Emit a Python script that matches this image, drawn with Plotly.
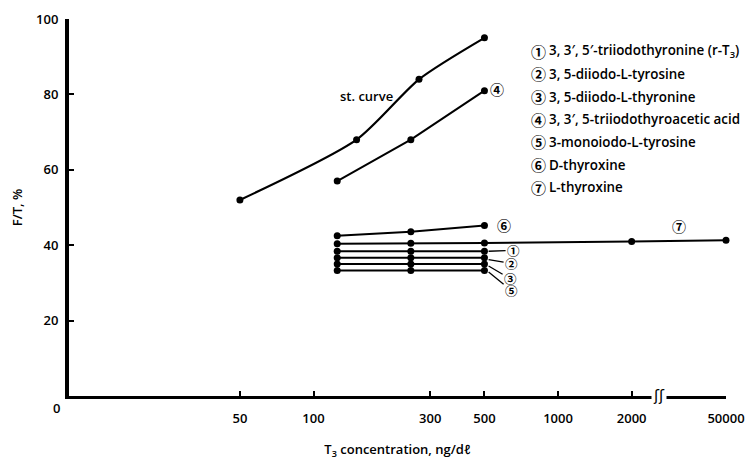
import math
import plotly.graph_objects as go

# ---------------- data ----------------
st_conc = [50, 150, 270, 500]
st_ft = [52, 68, 84, 95]

conc = [125, 250, 500]
s4_ft = [57, 68, 81]          # 3,3',5-triiodothyroacetic acid
s6_ft = [42.5, 43.6, 45.2]    # D-thyroxine
s1_ft = [38.4, 38.4, 38.4]    # r-T3
s2_ft = [36.7, 36.7, 36.7]    # 3,5-diiodo-L-tyrosine
s3_ft = [35.0, 35.0, 35.0]    # 3,5-diiodo-L-thyronine
s5_ft = [33.3, 33.3, 33.3]    # 3-monoiodo-L-tyrosine

s7_conc = [125, 250, 500, 2000, 50000]   # L-thyroxine
s7_ft = [40.4, 40.5, 40.6, 41.0, 41.3]

x_ticks = [50, 100, 300, 500, 1000, 2000, 50000]
y_ticks = [20, 40, 60, 80, 100]

legend_nums = ["①", "②", "③", "④", "⑤", "⑥", "⑦"]
legend_names = [
    "3, 3′, 5′-triiodothyronine (r-T<sub>3</sub>)",
    "3, 5-diiodo-L-tyrosine",
    "3, 5-diiodo-L-thyronine",
    "3, 3′, 5-triiodothyroacetic acid",
    "3-monoiodo-L-tyrosine",
    "D-thyroxine",
    "L-thyroxine",
]

# broken log axis: values above BREAK are compressed
BREAK = 2000
K = 0.276


def pos(v):
    lv = math.log10(v)
    if v <= BREAK:
        return lv
    return math.log10(BREAK) + K * (lv - math.log10(BREAK))


FONT = "Open Sans, Liberation Sans, DejaVu Sans"
CFONT = "Noto Sans CJK JP, DejaVu Sans"

fig = go.Figure()

line_style = dict(color="black", width=2)
mk = dict(color="black", size=7)

fig.add_trace(go.Scatter(x=[pos(v) for v in st_conc], y=st_ft, mode="lines+markers",
                         line=dict(color="black", width=2.2, shape="spline", smoothing=0.7),
                         marker=mk, cliponaxis=False))
for ys in [s4_ft, s6_ft, s1_ft, s2_ft, s3_ft, s5_ft]:
    fig.add_trace(go.Scatter(x=[pos(v) for v in conc], y=ys, mode="lines+markers",
                             line=line_style, marker=mk, cliponaxis=False))
fig.add_trace(go.Scatter(x=[pos(v) for v in s7_conc], y=s7_ft, mode="lines+markers",
                         line=line_style, marker=mk, cliponaxis=False))

ann = []
# st. curve label
ann.append(dict(x=pos(165), y=79.5, text="st. curve", showarrow=False,
                font=dict(family=FONT, size=13, color="black", weight=600)))
# circled labels at line ends
ann.append(dict(x=pos(500), y=s4_ft[-1], text="④", showarrow=False, xshift=13, yshift=2,
                font=dict(family=CFONT, size=14, color="black", weight="bold")))
ann.append(dict(x=pos(500), y=s6_ft[-1], text="⑥", showarrow=False, xshift=20, yshift=1,
                font=dict(family=CFONT, size=14, color="black", weight="bold")))
ann.append(dict(x=(pos(2000) + pos(50000)) / 2, y=s7_ft[-1], text="⑦", showarrow=False,
                yshift=14, font=dict(family=CFONT, size=14, color="black", weight="bold")))
leaders = [("①", s1_ft[-1], 25, -1), ("②", s2_ft[-1] - 0.5, 23, 4),
           ("③", s3_ft[-1] - 0.5, 22, 13), ("⑤", s5_ft[-1] - 0.4, 23, 19)]
for txt, yv, ax, ay in leaders:
    ann.append(dict(x=pos(520), y=yv, text=txt, showarrow=True, arrowhead=0,
                    arrowwidth=1.3, arrowcolor="black", ax=ax, ay=ay, standoff=0,
                    font=dict(family=CFONT, size=12.5, color="black", weight="bold")))
# legend text
for i, (n, t) in enumerate(zip(legend_nums, legend_names)):
    yp = (467 - 71 - (43 + 23.2 * i)) / 386
    ann.append(dict(xref="paper", yref="paper", x=(530 - 69) / 659, y=yp,
                    text=n, showarrow=False, xanchor="left", yanchor="middle",
                    font=dict(family=CFONT, size=15, color="black", weight="bold")))
    ann.append(dict(xref="paper", yref="paper", x=(548 - 69) / 659, y=yp,
                    text=t, showarrow=False, xanchor="left", yanchor="middle",
                    font=dict(family=FONT, size=13.4, color="black", weight=600)))
# zero label of y axis
ann.append(dict(xref="paper", yref="y", x=0, y=0, text="0", showarrow=False,
                xanchor="right", xshift=-7, yshift=-12,
                font=dict(family=FONT, size=13, color="black", weight=600)))
# axis break symbol
ann.append(dict(x=pos(2000) + 0.11, y=0, text="ʃʃ", showarrow=False, bgcolor="white",
                yshift=0, font=dict(family="DejaVu Sans", size=15, color="black")))

fig.update_layout(
    width=755, height=467,
    margin=dict(l=69, r=27, t=10, b=71),
    paper_bgcolor="white", plot_bgcolor="white",
    showlegend=False,
    annotations=ann,
    font=dict(family=FONT, size=13, color="black"),
)
fig.update_xaxes(
    range=[1.0, pos(50000)],
    tickvals=[pos(v) for v in x_ticks], ticktext=[str(v) for v in x_ticks],
    ticks="inside", ticklen=5, tickwidth=1.5, tickcolor="black",
    showline=True, linewidth=3, linecolor="black", showgrid=False, zeroline=False,
    ticklabelstandoff=8,
    tickfont=dict(family=FONT, size=13, color="black", weight=600),
    title=dict(text="T<sub>3</sub> concentration, ng/dℓ", standoff=20,
               font=dict(family=FONT, size=13, color="black", weight=600)),
)
fig.update_yaxes(
    range=[0, 100], tickvals=y_ticks, ticktext=[str(v) for v in y_ticks],
    ticks="inside", ticklen=5, tickwidth=1.5, tickcolor="black",
    showline=True, linewidth=4, linecolor="black", showgrid=False, zeroline=False,
    ticklabelstandoff=4,
    tickfont=dict(family=FONT, size=13, color="black", weight=600),
    title=dict(text="F/T, %", standoff=12, font=dict(family=FONT, size=13, color="black", weight=600)),
)

fig.write_html("out.html")
